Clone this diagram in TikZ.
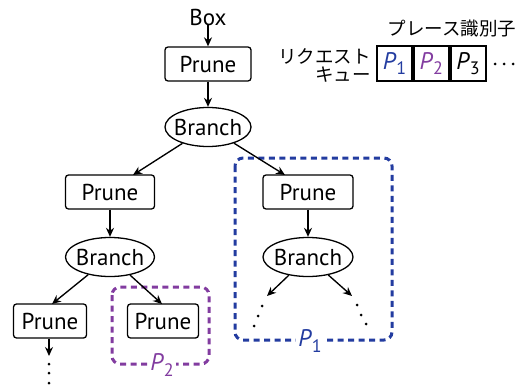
\documentclass[tikz,border=0pt]{standalone}
\usepackage{fontspec}
\setmainfont{PT Sans}
\newfontfamily\jpfont{Noto Sans CJK JP}
\usetikzlibrary{shapes.geometric,arrows.meta}
\definecolor{pblue}{RGB}{35,60,160}
\definecolor{ppurple}{RGB}{130,60,160}
\tikzset{
  treefont/.style={font=\fontsize{23}{23}\selectfont},
  prunebox/.style={draw,line width=1.3pt,rounded corners=3pt,inner sep=0pt,minimum height=34pt,treefont},
  branchnode/.style={draw,ellipse,line width=1.3pt,inner xsep=-6pt,inner ysep=0pt,minimum height=39pt,treefont},
  arr/.style={line width=1.35pt,-{Stealth[length=9pt,width=8pt]}},
  dotmark/.style={circle,fill=black,inner sep=0pt,minimum size=3pt},
  groupbox/.style={line width=3pt,rounded corners=8pt,dash pattern=on 6pt off 4.5pt},
  cell/.style={draw,line width=1.8pt,minimum width=35pt,minimum height=35pt,inner sep=0pt,font=\fontsize{24}{24}\selectfont},
  jp/.style={font=\jpfont\fontsize{18.5}{18.5}\selectfont,inner sep=0pt}
}
\newcommand{\pid}[1]{\textit{P}\raisebox{-0.45ex}{\fontsize{18}{18}\selectfont #1}}
\begin{document}
\begin{tikzpicture}[x=1pt,y=-1pt]
\useasboundingbox (0,0) rectangle (527,385);
% groups (behind)
\draw[groupbox,pblue] (235,158) rectangle (392,340);
\draw[groupbox,ppurple] (112,287) rectangle (209,364);
\node[fill=white,inner sep=2pt,text=pblue,font=\fontsize{24}{24}\selectfont] (lp1) at (310,341) {\pid{1}};
\node[fill=white,inner sep=2pt,text=ppurple,font=\fontsize{24}{24}\selectfont] (lp2) at (162,365) {\pid{2}};
% tree
\node[inner sep=0pt,treefont] (box) at (208,17) {Box};
\node[prunebox,minimum width=86pt] (pr1) at (208,64) {Prune};
\node[branchnode,minimum width=86pt] (br1) at (208,127) {Branch};
\node[prunebox,minimum width=89pt] (pr2) at (110,192) {Prune};
\node[branchnode,minimum width=89pt] (br2) at (110,257) {Branch};
\node[prunebox,minimum width=73pt] (pr3) at (50,321) {Prune};
\node[prunebox,minimum width=71pt] (pr4) at (163,321) {Prune};
\node[prunebox,minimum width=90pt] (pr5) at (308,192) {Prune};
\node[branchnode,minimum width=90pt] (br3) at (308,257) {Branch};
\coordinate (t2) at (133,175);
\coordinate (t5) at (285,175);
\coordinate (t3) at (52,304);
\coordinate (t4) at (162,304);
\coordinate (e1) at (267,296);
\coordinate (e2) at (352,296);
\coordinate (e3) at (49,356);
\draw[arr] (box) -- (pr1);
\draw[arr] (pr1) -- (br1);
\draw[arr] (br1) -- (t2);
\draw[arr] (br1) -- (t5);
\draw[arr] (pr2) -- (br2);
\draw[arr] (br2) -- (t3);
\draw[arr] (br2) -- (t4);
\draw[arr] (pr5) -- (br3);
\draw[arr] (br3) -- (e1);
\draw[arr] (br3) -- (e2);
\draw[arr] (pr3.south -| e3) -- (e3);
% dots
\node[dotmark] (d1) at (49,364) {};
\node[dotmark] (d2) at (49,373) {};
\node[dotmark] (d3) at (49,383) {};
\node[dotmark] (d4) at (262,306) {};
\node[dotmark] (d5) at (258,316) {};
\node[dotmark] (d6) at (254,326) {};
\node[dotmark] (d7) at (357,305) {};
\node[dotmark] (d8) at (361,315) {};
\node[dotmark] (d9) at (366,324) {};
% queue
\node[cell,text=pblue] (c1) at (394.5,63.5) {\pid{1}};
\node[cell,text=ppurple,anchor=west] (c2) at (c1.east) {\pid{2}};
\node[cell,anchor=west] (c3) at (c2.east) {\pid{3}};
\node[dotmark] (q1) at (495,64) {};
\node[dotmark] (q2) at (504,64) {};
\node[dotmark] (q3) at (513,64) {};
\node[jp] (ident) at (452,29) {プレース識別子};
\node[jp,anchor=east] (req1) at (371,56) {リクエスト};
\node[jp,anchor=east] (req2) at (371,75) {キュー};
\end{tikzpicture}
\end{document}
